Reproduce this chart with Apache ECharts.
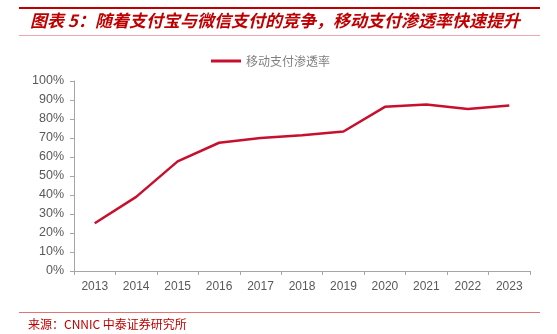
<!DOCTYPE html>
<html>
<head>
<meta charset="utf-8">
<script src="https://cdn.jsdelivr.net/npm/echarts@6/dist/echarts.min.js"></script>
<style>
html,body{margin:0;padding:0;background:#fff;}
#chart{width:557px;height:334px;}
</style>
</head>
<body>
<div id="chart"></div>
<script>
const categories = ['2013','2014','2015','2016','2017','2018','2019','2020','2021','2022','2023'];
const penetration = [25.1, 39.0, 57.7, 67.5, 70.0, 71.4, 73.4, 86.4, 87.6, 85.3, 87.1];
const seriesName = '移动支付渗透率';
const titleText = '图表 5：随着支付宝与微信支付的竞争，移动支付渗透率快速提升';
const sourceText = '来源：CNNIC 中泰证券研究所';

const chart = echarts.init(document.getElementById('chart'), null, {renderer:'canvas'});
const gray = '#595959';
const axisGray = '#a6a6a6';
chart.setOption({
  animation: false,
  backgroundColor: '#ffffff',
  textStyle: {fontFamily: '"Noto Sans CJK SC", "Liberation Sans", sans-serif'},
  graphic: [
    {type:'rect', shape:{x:19, y:7, width:521, height:2}, style:{fill:'#c00000'}},
    {type:'text', left:30, top:12, style:{text:titleText, fill:'#c00000', font:'italic bold 17px "Noto Sans CJK SC"'}},
    {type:'rect', shape:{x:19, y:35, width:521, height:1}, style:{fill:'#eba9a9'}},
    {type:'rect', shape:{x:19, y:312, width:521, height:1}, style:{fill:'#e57373'}},
    {type:'text', left:28, top:318, style:{text:sourceText, fill:'#c00000', font:'12px "Noto Sans CJK SC"'}}
  ],
  legend: {
    left: 206, top: 50,
    icon: 'rect', itemWidth: 30, itemHeight: 3, itemGap: 10,
    textStyle: {color: '#7f7f7f', fontSize: 12, fontFamily: '"Noto Sans CJK SC"'},
    data: [seriesName]
  },
  grid: {left: 74, right: 27, top: 81, bottom: 63, containLabel: false},
  xAxis: {
    type: 'category',
    data: categories,
    boundaryGap: true,
    axisLine: {lineStyle: {color: axisGray, width: 1}},
    axisTick: {show: true, length: 4, lineStyle:{color: axisGray}},
    axisLabel: {color: gray, fontSize: 12, margin: 10, fontFamily:'"Liberation Sans", Arial, sans-serif'}
  },
  yAxis: {
    type: 'value',
    min: 0, max: 100, interval: 10,
    axisLine: {show: true, lineStyle: {color: axisGray, width: 1}},
    axisTick: {show: true, length: 4, lineStyle:{color: axisGray}},
    splitLine: {show: false},
    axisLabel: {color: gray, fontSize: 12.5, margin: 10, formatter: '{value}%', fontFamily:'"Liberation Sans", Arial, sans-serif'}
  },
  series: [{
    name: seriesName,
    type: 'line',
    data: penetration,
    symbol: 'none',
    lineStyle: {color: '#c8102e', width: 2.5},
    itemStyle: {color: '#c8102e'}
  }]
});
</script>
</body>
</html>
